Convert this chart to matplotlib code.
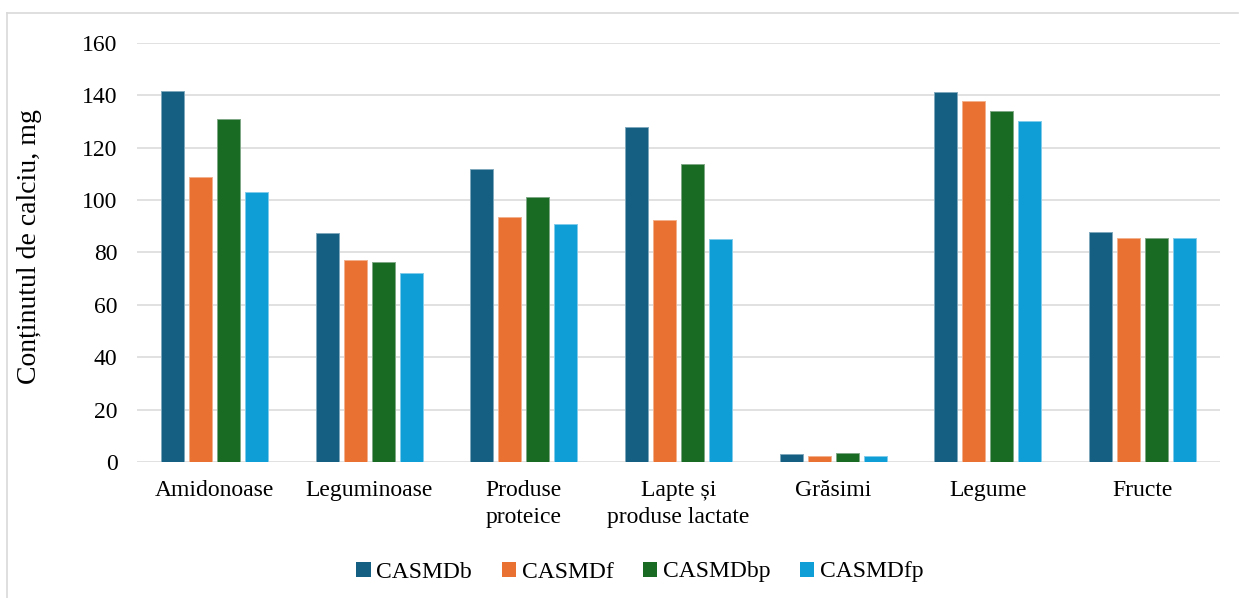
import numpy as np
import matplotlib.pyplot as plt
from matplotlib.lines import Line2D
from matplotlib.patches import Patch

plt.rcParams['font.family'] = ['Liberation Serif', 'DejaVu Serif']

categories = ['Amidonoase', 'Leguminoase', 'Produse\nproteice', 'Lapte și\nproduse lactate',
              'Grăsimi', 'Legume', 'Fructe']
series_names = ['CASMDb', 'CASMDf', 'CASMDbp', 'CASMDfp']
casmd_b = [141.6, 87.3, 111.9, 127.9, 3.1, 141.2, 88.0]
casmd_f = [108.7, 77.3, 93.6, 92.4, 2.3, 137.7, 85.6]
casmd_bp = [130.8, 76.3, 101.2, 113.7, 3.3, 133.9, 85.6]
casmd_fp = [103.2, 72.0, 90.8, 85.2, 2.3, 130.1, 85.6]
yticks = [0, 20, 40, 60, 80, 100, 120, 140, 160]

colors = ['#156082', '#E97132', '#196B24', '#0F9ED5']
edges = ['#7fa8bd', '#f4b08c', '#7fa886', '#7fcbea']

fig = plt.figure(figsize=(12.39, 5.98), dpi=100)
ax = fig.add_axes([137 / 1239, 1 - 462 / 598, (1220 - 137) / 1239, (462 - 43) / 598])

x = np.arange(len(categories))
step = 0.181
width = 0.149
for i, vals in enumerate([casmd_b, casmd_f, casmd_bp, casmd_fp]):
    ax.bar(x + (i - 1.5) * step, vals, width, color=colors[i],
           edgecolor=edges[i], linewidth=0.7, zorder=3)

ax.set_xlim(-0.5, len(categories) - 0.5)
ax.set_ylim(0, 160)
ax.set_yticks(yticks)
ax.set_xticks(x)
ax.set_xticklabels(categories, fontsize=17, linespacing=1.35)
ax.tick_params(axis='y', length=0, pad=14, labelsize=17)
ax.tick_params(axis='x', length=0, pad=13)
ax.grid(axis='y', color='#d9d9d9', linewidth=1.1, zorder=0)
for s in ax.spines.values():
    s.set_visible(False)
ax.set_ylabel('Conținutul de calciu, mg', fontsize=20)
ax.yaxis.set_label_coords(-0.088, 0.515)

handles = [Patch(facecolor=c, edgecolor='none') for c in colors]
fig.legend(handles, series_names, loc='center', bbox_to_anchor=(640 / 1239, 1 - 572 / 598),
           ncol=4, frameon=False, fontsize=17, handlelength=0.6, handleheight=0.6,
           handletextpad=0.25, columnspacing=1.25)

# outer chart frame (top and left edges)
fig.add_artist(Line2D([7 / 1239, 7 / 1239], [0, 1 - 13 / 598], color='#d9d9d9', linewidth=1.2))
fig.add_artist(Line2D([7 / 1239, 1238 / 1239], [1 - 13 / 598, 1 - 13 / 598], color='#d9d9d9', linewidth=1.2))

fig.savefig('out.png', dpi=100)
